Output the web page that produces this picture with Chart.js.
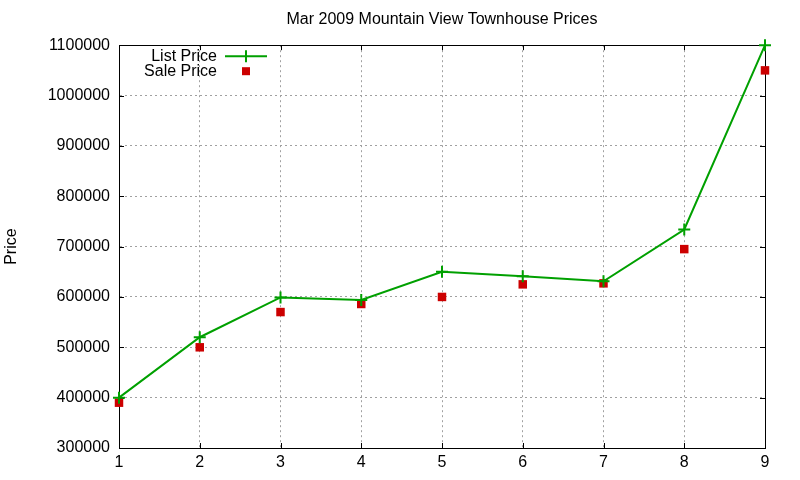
<!DOCTYPE html>
<html>
<head>
<meta charset="utf-8">
<script src="https://cdn.jsdelivr.net/npm/chart.js@4/dist/chart.umd.min.js"></script>
<style>
  html, body { margin: 0; padding: 0; background: #fff; }
  #wrap { width: 800px; height: 480px; }
</style>
</head>
<body>
<div id="wrap"><canvas id="grafico" width="800" height="480"></canvas></div>
<script>
const meses = [1, 2, 3, 4, 5, 6, 7, 8, 9];
const listPrice = [400000, 520000, 599000, 594000, 650000, 641000, 631000, 734000, 1100000];
const salePrice = [390000, 500000, 570000, 586000, 600000, 625000, 627000, 695000, 1050000];
const yTicks = [300000, 400000, 500000, 600000, 700000, 800000, 900000, 1000000, 1100000];

const verde = '#00a000';
const rojo = '#cc0000';
const fuente = 'Liberation Sans, Arial, sans-serif';

// leyenda dentro del area, como gnuplot
const leyenda = {
  id: 'leyenda',
  afterDraw(chart) {
    const ctx = chart.ctx;
    const a = chart.chartArea;
    ctx.save();
    ctx.font = '16px ' + fuente;
    ctx.fillStyle = '#000';
    ctx.textAlign = 'right';
    ctx.textBaseline = 'middle';
    const xt = a.left + 98, y1 = a.top + 11, y2 = a.top + 26;
    ctx.fillText('List Price', xt, y1);
    ctx.fillText('Sale Price', xt, y2);
    ctx.strokeStyle = verde;
    ctx.lineWidth = 2;
    ctx.beginPath();
    ctx.moveTo(a.left + 106, y1); ctx.lineTo(a.left + 148, y1);
    ctx.moveTo(a.left + 127, y1 - 6); ctx.lineTo(a.left + 127, y1 + 6);
    ctx.stroke();
    ctx.fillStyle = rojo;
    ctx.fillRect(a.left + 123, y2 - 4, 8, 8);
    ctx.restore();
  }
};

// marco negro y marcas de tick hacia dentro
const marco = {
  id: 'marco',
  beforeDatasetsDraw(chart) {
    const c = chart.ctx, a = chart.chartArea;
    const sx = chart.scales.x, sy = chart.scales.y;
    c.save();
    c.strokeStyle = '#000';
    c.lineWidth = 1;
    c.strokeRect(Math.round(a.left) + 0.5, Math.round(a.top) + 0.5,
      Math.round(a.right - a.left), Math.round(a.bottom - a.top));
    c.beginPath();
    sx.ticks.forEach(t => {
      const x = Math.round(sx.getPixelForValue(t.value)) + 0.5;
      c.moveTo(x, a.bottom); c.lineTo(x, a.bottom - 5);
      c.moveTo(x, a.top); c.lineTo(x, a.top + 5);
    });
    sy.ticks.forEach(t => {
      const y = Math.round(sy.getPixelForValue(t.value)) + 0.5;
      c.moveTo(a.left, y); c.lineTo(a.left + 5, y);
      c.moveTo(a.right, y); c.lineTo(a.right - 5, y);
    });
    c.stroke();
    c.restore();
  }
};

const ctx = document.getElementById('grafico').getContext('2d');
const chart = new Chart(ctx, {
  type: 'line',
  data: {
    datasets: [{
      label: 'List Price',
      data: meses.map((m, i) => ({ x: m, y: listPrice[i] })),
      borderColor: verde,
      backgroundColor: verde,
      borderWidth: 2,
      pointStyle: 'cross',
      pointRadius: 6,
      pointBorderWidth: 2,
      tension: 0,
      clip: false
    }, {
      label: 'Sale Price',
      data: meses.map((m, i) => ({ x: m, y: salePrice[i] })),
      showLine: false,
      borderColor: rojo,
      backgroundColor: rojo,
      pointStyle: 'rect',
      pointRadius: 6,
      pointBorderWidth: 0,
      clip: false
    }]
  },
  options: {
    responsive: false,
    animation: false,
    layout: { padding: { left: 0, right: 35, top: 0, bottom: 0 } },
    plugins: {
      legend: { display: false },
      tooltip: { enabled: false },
      title: {
        display: true,
        text: 'Mar 2009 Mountain View Townhouse Prices',
        fullSize: false,
        color: '#000',
        font: { family: fuente, size: 16, weight: 'normal' },
        padding: { top: 10, bottom: 16 }
      }
    },
    scales: {
      x: {
        type: 'linear',
        min: 1,
        max: 9,
        afterFit(s) { s.height = 32; },
        ticks: { stepSize: 1, color: '#000', font: { family: fuente, size: 16 }, padding: 5 },
        grid: { color: '#a0a0a0', drawTicks: false },
        border: { color: '#000', width: 1, dash: [2, 3] }
      },
      y: {
        min: 300000,
        max: 1100000,
        afterFit(s) { s.width = 119; },
        afterBuildTicks(s) { s.ticks = yTicks.map(v => ({ value: v })); },
        ticks: {
          color: '#000',
          font: { family: fuente, size: 16 },
          padding: 9,
          callback: v => String(v)
        },
        grid: { color: '#a0a0a0', drawTicks: false },
        border: { color: '#000', width: 1, dash: [2, 3] },
        title: {
          display: true,
          text: 'Price',
          color: '#000',
          font: { family: fuente, size: 16 },
          padding: 2
        }
      }
    }
  },
  plugins: [leyenda, marco]
});
</script>
</body>
</html>
